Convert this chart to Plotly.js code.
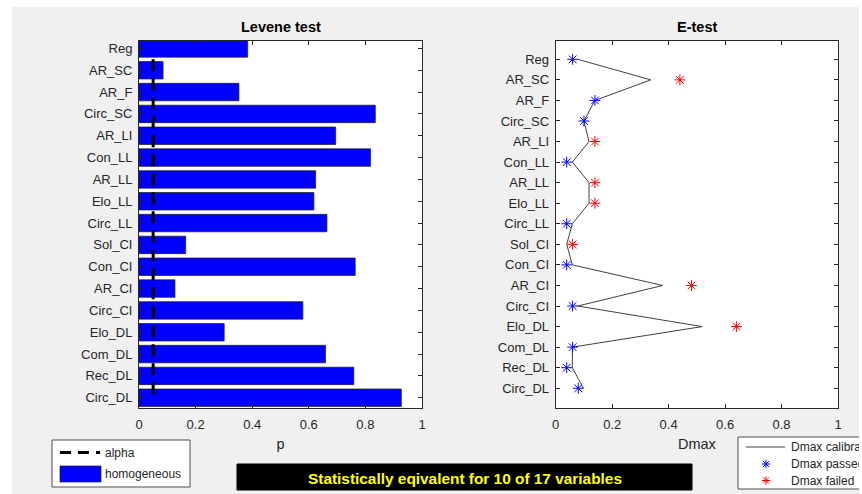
<!DOCTYPE html>
<html><head><meta charset="utf-8">
<script src="https://cdn.plot.ly/plotly-3.0.1.min.js"></script>
<style>
html,body{margin:0;padding:0;background:#ffffff;width:862px;height:494px;overflow:hidden}
#chart{position:absolute;left:12px;top:7px;width:847px;height:487px}
</style>
</head><body><div id="chart"></div>
<script>
// ---------- data ----------
const categories = ['Reg','AR_SC','AR_F','Circ_SC','AR_LI','Con_LL','AR_LL','Elo_LL','Circ_LL','Sol_CI','Con_CI','AR_CI','Circ_CI','Elo_DL','Com_DL','Rec_DL','Circ_DL'];
const leveneP = [0.384,0.085,0.353,0.835,0.695,0.818,0.624,0.618,0.664,0.165,0.764,0.127,0.579,0.301,0.659,0.759,0.927];
const alpha = 0.05;
const dmaxCalibration = [0.078,0.337,0.139,0.100,0.118,0.059,0.118,0.118,0.059,0.039,0.059,0.379,0.078,0.519,0.059,0.059,0.098];
const dmaxPassed = [0.060,null,0.139,0.100,null,0.039,null,null,0.039,null,0.039,null,0.060,null,0.060,0.039,0.080];
const dmaxFailed = [null,0.440,null,null,0.139,null,0.139,0.139,null,0.060,null,0.481,null,0.640,null,null,null];
const xTicks = [0,0.2,0.4,0.6,0.8,1];
const legendLeft = ['alpha','homogeneous'];
const legendRight = ['Dmax calibration','Dmax passed','Dmax failed'];

const idx = categories.map((_, i) => i);
const nPassed = dmaxPassed.filter(v => v !== null).length;
const summaryText = 'Statistically eqivalent for ' + nPassed + ' of ' + categories.length + ' variables';

// ---------- helpers (page px -> paper) ----------
const FONT = '"Liberation Sans", Arial, Helvetica, sans-serif';
const PL = 139, PR = 838, PT = 41, PB = 408;
const X = p => (p - PL) / (PR - PL);
const Y = p => (PB - p) / (PB - PT);
const TXT = '#262626';

function asterisk(cx, cy, r, color) {
  const d = r * 0.72;
  const seg = (x1, y1, x2, y2) => 'M' + X(x1) + ',' + Y(y1) + 'L' + X(x2) + ',' + Y(y2);
  return {
    type: 'path', xref: 'paper', yref: 'paper',
    path: seg(cx - r, cy, cx + r, cy) + seg(cx, cy - r, cx, cy + r) +
          seg(cx - d, cy - d, cx + d, cy + d) + seg(cx - d, cy + d, cx + d, cy - d),
    line: { color: color, width: 1 }
  };
}

// ---------- traces ----------
const traces = [
  { type: 'bar', orientation: 'h', x: leveneP, y: idx, width: 0.8,
    marker: { color: '#0000ff', line: { color: '#1a1a1a', width: 0.7 } },
    xaxis: 'x', yaxis: 'y', hoverinfo: 'x+y', showlegend: false },
  { type: 'scatter', mode: 'lines', x: [alpha, alpha], y: [0.5, idx[idx.length - 1]],
    line: { color: '#000000', width: 3, dash: '12px,7px' },
    xaxis: 'x', yaxis: 'y', showlegend: false },
  { type: 'scatter', mode: 'lines', x: dmaxCalibration, y: idx,
    line: { color: '#404040', width: 1 }, xaxis: 'x2', yaxis: 'y2', showlegend: false },
  { type: 'scatter', mode: 'markers', x: dmaxPassed, y: idx,
    marker: { symbol: 'asterisk-open', size: 9, color: '#0000ff', line: { color: '#0000ff', width: 1 } },
    xaxis: 'x2', yaxis: 'y2', showlegend: false, cliponaxis: false },
  { type: 'scatter', mode: 'markers', x: dmaxFailed, y: idx,
    marker: { symbol: 'asterisk-open', size: 9, color: '#ff0000', line: { color: '#ff0000', width: 1 } },
    xaxis: 'x2', yaxis: 'y2', showlegend: false, cliponaxis: false }
];

// ---------- layout ----------
const axisCommon = {
  showline: true, mirror: 'ticks', linecolor: '#262626', linewidth: 1,
  ticks: 'inside', ticklen: 4, tickcolor: '#262626', tickwidth: 1,
  showgrid: false, zeroline: false, fixedrange: true,
  tickfont: { family: FONT, size: 13, color: TXT }
};
const xAxisCommon = Object.assign({}, axisCommon, {
  range: [0, 1], tickvals: xTicks, ticklabelstandoff: 4
});
const yAxisCommon = Object.assign({}, axisCommon, {
  tickvals: idx, ticktext: categories, ticklabelstandoff: 3
});

const shapes = [
  // left legend
  { type: 'rect', xref: 'paper', yref: 'paper', x0: X(52), x1: X(190), y0: Y(440), y1: Y(487),
    fillcolor: '#ffffff', line: { color: '#4d4d4d', width: 1 } },
  { type: 'line', xref: 'paper', yref: 'paper', x0: X(60), x1: X(100), y0: Y(452.5), y1: Y(452.5),
    line: { color: '#000000', width: 3, dash: '11px,7px' } },
  { type: 'rect', xref: 'paper', yref: 'paper', x0: X(60), x1: X(101), y0: Y(466), y1: Y(482),
    fillcolor: '#0000ff', line: { color: '#1a1a1a', width: 0.7 } },
  // right legend
  { type: 'rect', xref: 'paper', yref: 'paper', x0: X(738), x1: X(920), y0: Y(437), y1: Y(489),
    fillcolor: '#ffffff', line: { color: '#4d4d4d', width: 1 } },
  { type: 'line', xref: 'paper', yref: 'paper', x0: X(746), x1: X(785), y0: Y(447), y1: Y(447),
    line: { color: '#404040', width: 1 } },
  asterisk(766, 464, 4.2, '#0000ff'),
  asterisk(766, 480.5, 4.2, '#ff0000'),
  // summary box
  { type: 'rect', xref: 'paper', yref: 'paper', x0: X(237), x1: X(692), y0: Y(464), y1: Y(490),
    fillcolor: '#000000', line: { color: '#000000', width: 1 } }
];

const ann = (text, px, py, opts) => Object.assign({
  text: text, xref: 'paper', yref: 'paper', x: X(px), y: Y(py), showarrow: false,
  xanchor: 'left', yanchor: 'middle', font: { family: FONT, size: 12, color: TXT }
}, opts || {});

const annotations = [
  ann('<b>Levene test</b>', 280.5, 27, { xanchor: 'center', font: { family: FONT, size: 14.5, color: '#000000' } }),
  ann('<b>E-test</b>', 697, 27, { xanchor: 'center', font: { family: FONT, size: 14.5, color: '#000000' } }),
  ann(legendLeft[0], 103, 452.5),
  ann(legendLeft[1], 103, 474),
  ann(legendRight[0], 789, 447),
  ann(legendRight[1], 789, 464),
  ann(legendRight[2], 789, 480.5),
  ann('<b>' + summaryText + '</b>', 465, 478, { xanchor: 'center', font: { family: FONT, size: 15.4, color: '#ffff00' } })
];

const layout = {
  width: 847, height: 487,
  margin: { l: PL - 12, r: 859 - PR, t: PT - 7, b: 494 - PB, pad: 0, autoexpand: false },
  paper_bgcolor: '#f0f0f0', plot_bgcolor: '#ffffff',
  showlegend: false,
  xaxis: Object.assign({}, xAxisCommon, { domain: [0, X(422)], anchor: 'y',
    title: { text: 'p', font: { family: FONT, size: 14.5, color: TXT }, standoff: 8 } }),
  yaxis: Object.assign({}, yAxisCommon, { domain: [0, 1], anchor: 'x', range: [16.47, -0.34] }),
  xaxis2: Object.assign({}, xAxisCommon, { domain: [X(555.7), 1], anchor: 'y2',
    title: { text: 'Dmax', font: { family: FONT, size: 14.5, color: TXT }, standoff: 8 } }),
  yaxis2: Object.assign({}, yAxisCommon, { domain: [0, 1], anchor: 'x2', range: [16.96, -0.89] }),
  shapes: shapes,
  annotations: annotations
};

Plotly.newPlot('chart', traces, layout, { displayModeBar: false, staticPlot: true });
</script>
</body></html>
